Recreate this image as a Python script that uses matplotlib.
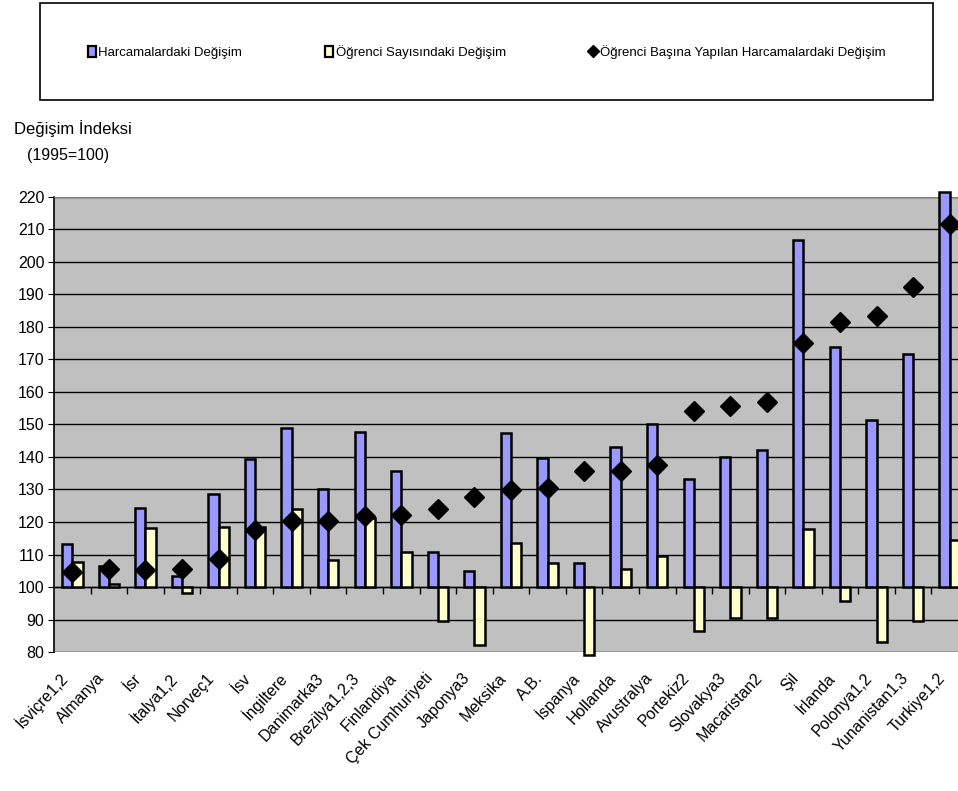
import matplotlib.pyplot as plt
import matplotlib.patches as mpatches
from matplotlib.lines import Line2D
import matplotlib.transforms as mtransforms
import numpy as np

plt.rcParams['font.family'] = ['Liberation Sans', 'DejaVu Sans']

# countries (labels as they appear on the chart)
ulkeler = ['İsviçre1,2', 'Almanya', 'İsr', 'İtalya1,2', 'Norveç1', 'İsv', 'İngiltere',
           'Danimarka3', 'Brezilya1,2,3', 'Finlandiya', 'Çek Cumhuriyeti', 'Japonya3',
           'Meksika', 'A.B.', 'İspanya', 'Hollanda', 'Avustralya', 'Portekiz2',
           'Slovakya3', 'Macaristan2', 'Şil', 'İrlanda', 'Polonya1,2', 'Yunanistan1,3',
           'Turkiye1,2']

# change in expenditure
harcama = [113.2, 106.6, 124.2, 103.5, 128.7, 139.5, 148.9, 130.3, 147.8, 135.6,
           110.8, 105.0, 147.4, 139.6, 107.3, 143.1, 150.1, 133.2, 140.0, 142.1,
           206.8, 173.7, 151.5, 171.8, 221.5]
# change in number of students
ogrenci = [107.8, 101.0, 118.1, 98.2, 118.4, 118.4, 123.9, 108.2, 121.2, 110.8,
           89.6, 82.1, 113.5, 107.3, 79.1, 105.5, 109.4, 86.5, 90.4, 90.4,
           117.9, 95.8, 83.0, 89.6, 114.4]
# change in expenditure per student
ogrenci_basina = [104.7, 105.5, 105.2, 105.5, 108.5, 117.4, 120.2, 120.4, 121.9, 122.2,
                  124.0, 127.6, 129.9, 130.4, 135.6, 135.6, 137.5, 154.3, 155.6, 156.9,
                  175.0, 181.6, 183.3, 192.2, 211.7]

fig = plt.figure(figsize=(9.58, 7.91), dpi=100)
ax = fig.add_axes([0.0564, 0.1757, 0.9540, 0.5753])
ax.set_facecolor('#C0C0C0')

x = np.arange(len(ulkeler))
w = 0.28
taban = 100
ax.bar(x - w/2, np.array(harcama) - taban, w, bottom=taban, color='#9999FF',
       edgecolor='black', linewidth=1.8, zorder=3, clip_on=False)
ax.bar(x + w/2, np.array(ogrenci) - taban, w, bottom=taban, color='#FFFFCC',
       edgecolor='black', linewidth=1.8, zorder=3, clip_on=False)
ax.plot(x, ogrenci_basina, linestyle='none', marker='D', color='black',
        markersize=10, zorder=4)

ax.set_xlim(-0.5, len(ulkeler) - 0.5)
ax.set_ylim(80, 220)
ax.set_yticks(np.arange(80, 221, 10))
ax.yaxis.grid(True, color='black', linewidth=1.0, zorder=1)
ax.set_axisbelow(True)
ax.tick_params(axis='y', labelsize=11.5, length=4, direction='out', pad=3)

# category axis crosses at 100
ax.spines['bottom'].set_position(('data', 100))
ax.spines['bottom'].set_linewidth(1.0)
ax.set_xticks(np.arange(0.5, len(ulkeler) - 0.5, 1))
ax.set_xticklabels([])
ax.tick_params(axis='x', length=5, direction='out', width=1)
ax.spines['top'].set_color('#808080')
ax.spines['right'].set_visible(False)
ax.spines['left'].set_linewidth(1.2)

trans = mtransforms.blended_transform_factory(ax.transData, ax.transAxes)
for i, ad in enumerate(ulkeler):
    ax.text(i - 0.2, -0.052, ad, transform=trans, rotation=47, ha='right', va='center',
            rotation_mode='anchor', fontsize=11.5)

fig.text(0.015, 0.838, 'Değişim İndeksi', fontsize=12, va='center')
fig.text(0.028, 0.804, '(1995=100)', fontsize=11.5, va='center')

# legend in a box
fig.patches.append(mpatches.Rectangle((0.0418, 0.874), 0.932, 0.122,
                                      transform=fig.transFigure, fill=False,
                                      edgecolor='black', linewidth=1.2))
handles = [mpatches.Patch(facecolor='#9999FF', edgecolor='black', linewidth=1.6),
           mpatches.Patch(facecolor='#FFFFCC', edgecolor='black', linewidth=1.6),
           Line2D([], [], linestyle='none', marker='D', color='black', markersize=6)]
fig.legend(handles, ['Harcamalardaki Değişim', 'Öğrenci Sayısındaki Değişim',
                     'Öğrenci Başına Yapılan Harcamalardaki Değişim'],
           loc='center', bbox_to_anchor=(0.508, 0.934), ncol=3, frameon=False,
           fontsize=9.5, handlelength=0.6, handleheight=0.9, handletextpad=0.2,
           columnspacing=6.3)

fig.savefig('out.png', dpi=100)
